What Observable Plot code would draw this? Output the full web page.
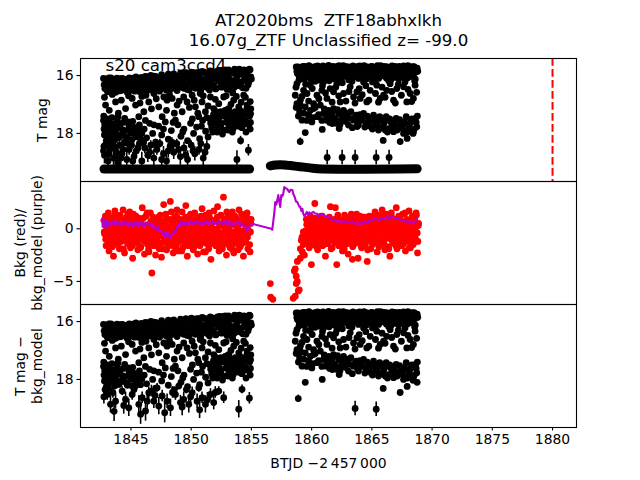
<!DOCTYPE html>
<html><head><meta charset="utf-8">
<script src="https://cdn.jsdelivr.net/npm/d3@7"></script>
<script src="https://cdn.jsdelivr.net/npm/@observablehq/plot@0.6"></script>
<style>
html,body{margin:0;padding:0;background:#fff;}
#fig{position:relative;width:640px;height:480px;overflow:hidden;}
</style></head><body>
<div id="fig"></div>
<script>
// ---------- texts & ticks ----------
const titleLines = ["AT2020bms \u00a0ZTF18abhxlkh\n16.07g_ZTF Unclassified z= -99.0"];
const sectorLabel = ["s20 cam3ccd4"];
const yLabelTop = ["T mag"];
const yLabelMid = ["Bkg (red)/\nbkg_model (purple)"];
const yLabelBot = ["T mag \u2212\nbkg_model"];
const xLabel = ["BTJD \u22122\u2009457\u2009000"];
const xTicks = [1845, 1850, 1855, 1860, 1865, 1870, 1875, 1880];
const magTicks = [16, 18];
const bkgTicks = [0, -5];
const alertTime = [1880];

// ---------- T mag: regularly sampled bright band (cadence start, step, values) ----------
const bandA1 = {t0: 1842.72, dt: 0.1122, mag: [
16.10,16.45,16.15,16.56,16.08,16.32,16.50,16.12,16.25,16.58,
16.09,16.38,16.18,16.52,16.10,16.30,16.46,16.13,16.57,16.08,
16.27,16.42,16.14,16.54,16.05,16.35,16.20,16.48,16.06,16.28,
16.56,16.03,16.38,16.14,16.45,15.99,16.30,16.20,16.52,16.04,
16.36,16.10,16.48,15.97,16.24,16.42,16.08,16.32,15.95,16.50,
16.16,16.38,15.94,16.27,16.46,16.06,16.22,15.92,16.40,16.12,
16.30,15.90,16.48,16.05,16.20,15.88,16.36,16.10,16.44,15.90,
16.26,16.00,16.52,15.86,16.15,16.34,15.92,16.42,16.05,15.84,
16.28,16.10,15.88,16.46,16.00,16.20,15.82,16.38,15.95,16.12,
15.80,16.30,16.04,15.86,16.48,15.92,16.18,15.78,16.36,16.00,
15.84,16.24,15.96,16.42,15.80,16.10,15.90,16.32,15.78,16.05]};
const bandB1 = {t0: 1842.77, dt: 0.1122, mag: [
16.32,16.12,16.50,16.20,16.40,16.08,16.55,16.28,16.16,16.44,
16.22,16.53,16.11,16.36,16.47,16.18,16.30,16.58,16.14,16.40,
16.50,16.09,16.33,16.21,16.46,16.12,16.55,16.26,16.38,16.15,
16.44,16.25,16.05,16.50,16.18,16.40,16.30,16.02,16.46,16.22,
16.12,16.54,16.28,16.06,16.40,16.16,16.50,16.00,16.34,16.20,
16.45,15.98,16.30,16.12,16.52,16.03,16.38,16.18,15.96,16.44,
16.08,16.32,15.94,16.50,16.15,16.26,15.92,16.40,16.02,16.22,
15.90,16.46,16.12,16.30,15.88,16.38,15.98,16.20,16.50,15.86,
16.10,16.34,15.94,16.44,15.84,16.18,16.02,16.40,15.82,16.26,
15.96,16.48,15.80,16.14,16.32,15.90,16.42,15.82,16.08,16.28,
15.78,16.36,15.92,16.18,15.82,16.44,15.98,16.22,15.80,16.12]};
const bandA2 = {t0: 1858.72, dt: 0.1014, mag: [
15.70,15.93,15.78,16.10,15.73,16.00,15.84,15.68,16.06,15.80,
15.96,15.72,16.13,15.86,15.76,16.03,15.69,15.90,15.82,16.16,
15.74,15.98,15.67,15.88,16.08,15.78,15.71,16.02,15.85,15.94,
15.68,16.12,15.80,15.75,15.97,15.66,15.91,16.07,15.73,15.83,
16.00,15.69,15.88,16.14,15.77,15.95,15.68,16.04,15.81,15.72,
15.92,16.10,15.67,15.86,15.99,15.74,15.79,16.08,15.70,15.94,
15.82,16.03,15.68,15.89,15.76,16.13,15.71,15.97,15.84,15.66,
16.01,15.78,15.92,15.69,16.09,15.74,15.87,15.98,15.70,15.81,
16.05,15.68,15.93,15.76,16.11,15.72,15.85,16.00,15.67,15.90,
15.78,16.08,15.71,15.95,15.83,15.69,16.03,15.77,15.88,15.74]};
const bandB2 = {t0: 1858.77, dt: 0.1014, mag: [
15.86,15.70,16.04,15.76,15.94,15.68,16.12,15.82,15.72,15.99,
15.66,15.90,15.78,16.08,15.70,15.96,15.84,15.67,16.02,15.75,
15.92,15.69,16.14,15.80,15.73,15.97,15.65,15.88,16.06,15.77,
15.71,16.00,15.83,15.68,15.95,16.10,15.74,15.87,15.66,16.03,
15.79,15.91,15.70,16.15,15.76,15.85,15.67,16.01,15.72,15.93,
15.68,16.07,15.81,15.74,15.98,15.66,15.89,16.12,15.71,15.84,
15.96,15.69,16.05,15.78,15.72,15.90,15.66,16.10,15.80,15.75,
15.94,15.68,16.02,15.83,15.70,15.97,15.74,16.14,15.67,15.88,
15.79,16.06,15.71,15.92,15.68,16.00,15.76,15.86,16.09,15.72,
15.95,15.66,16.04,15.81,15.73,15.91,15.69,16.12,15.78,15.85]};

// ---------- T mag: scattered points [t, mag] ----------
const mid1 = [[1842.89,17.02],[1843.72,16.91],[1844.55,17.14],[1845.10,16.79],[1845.38,17.02],[1846.07,17.25],[1846.48,16.91],[1846.90,16.62],[1847.31,17.08],[1847.73,16.74],[1848.00,16.85],[1848.42,16.79],[1848.83,17.02],[1849.25,17.25],[1849.38,16.74],[1849.66,16.91],[1850.08,16.68],[1850.35,17.08],[1850.90,16.91],[1851.18,17.25],[1851.60,16.74],[1851.87,17.14],[1852.29,16.97],[1852.70,16.74],[1853.12,17.14],[1853.53,16.85],[1853.95,17.08],[1854.36,16.68],[1854.64,17.02],[1854.77,17.25],[1845.65,17.42],[1847.59,17.42],[1848.69,17.54],[1850.63,17.42],[1851.73,17.48],
[1842.80,16.75],[1843.20,17.20],[1843.45,16.65],[1843.95,17.30],[1844.20,16.85],[1844.80,16.70],[1845.75,16.95],[1846.25,16.68],[1846.70,17.15],[1847.10,16.80],[1847.95,17.20],[1848.20,16.66],[1848.60,17.30],[1849.00,16.88],[1849.85,17.10],[1850.25,16.85],[1850.55,17.30],[1851.00,16.70],[1851.40,17.05],[1852.00,16.82],[1852.45,17.25],[1852.90,16.70],[1853.30,17.00],[1853.75,16.72],[1854.15,16.92],[1854.50,16.75],[1854.90,16.90],[1853.45,16.60],[1850.75,16.62],[1845.90,16.72]];
const low1 = [[1842.72,17.55],[1842.76,17.85],[1842.80,18.05],[1842.90,17.68],[1843.00,17.95],[1843.10,18.18],[1843.22,17.60],[1843.35,17.88],[1843.48,18.10],[1843.60,17.72],[1843.72,17.98],[1843.85,17.50],[1843.98,18.15],[1844.10,17.80],[1844.25,18.02],[1844.40,17.62],[1844.55,17.90],[1844.70,18.20],[1844.85,17.75],[1845.00,18.00],[1845.15,17.58],[1845.30,17.92],[1845.50,18.12],[1845.70,17.70],[1845.90,17.98],
[1846.10,17.85],[1846.30,18.15],[1846.55,17.65],[1846.80,18.00],[1847.05,18.30],[1847.30,17.75],[1847.55,18.05],[1847.85,17.60],[1848.10,18.20],[1848.35,17.90],[1848.60,18.35],[1848.90,17.70],[1849.15,18.10],[1849.40,17.85],[1849.70,18.25],[1849.95,17.65],[1850.20,18.00],[1850.45,17.78],[1850.70,18.18],[1850.95,17.55],[1851.20,17.92],[1851.40,18.12],
[1851.55,17.50],[1851.70,17.80],[1851.85,17.35],[1852.00,17.65],[1852.15,17.95],[1852.30,17.45],[1852.45,17.72],[1852.60,18.02],[1852.75,17.38],[1852.90,17.60],[1853.05,17.88],[1853.20,17.30],[1853.35,17.55],[1853.50,17.82],[1853.65,17.25],[1853.80,17.48],[1853.95,17.75],[1854.10,17.22],[1854.25,17.42],[1854.40,17.68],[1854.55,17.95],[1854.70,17.20],[1854.85,17.40],[1854.92,17.62],[1854.90,17.85],[1854.15,17.55],[1853.60,17.65],[1852.20,17.55],[1851.95,17.20],[1853.00,17.18],[1854.60,17.32],[1854.95,17.15],
[1842.74,17.40],[1842.82,17.70],[1842.86,17.95],[1842.95,18.25],[1843.05,17.50],[1843.15,17.78],[1843.28,18.00],[1843.42,17.45],[1843.55,17.68],[1843.66,18.22],[1843.78,17.85],[1843.92,17.42],[1844.05,17.65],[1844.18,18.08],[1844.32,17.88],[1844.48,17.48],[1844.62,18.12],[1844.78,17.60],[1844.92,17.85],[1845.08,18.22],[1845.22,17.78],[1845.40,18.05],[1845.60,17.88],[1845.80,18.18],
[1846.20,17.55],[1846.90,17.70],[1847.70,17.85],[1848.50,17.62],[1849.30,17.95],[1850.10,17.50],[1850.85,17.75],[1851.30,17.45],
[1851.62,17.65],[1851.78,17.95],[1851.90,17.55],[1852.08,17.28],[1852.25,17.80],[1852.38,17.62],[1852.52,17.40],[1852.68,17.88],[1852.82,17.20],[1852.98,17.50],[1853.12,17.72],[1853.28,17.42],[1853.42,17.95],[1853.58,17.35],[1853.72,17.60],[1853.88,17.30],[1854.02,17.50],[1854.20,17.80],[1854.32,17.28],[1854.48,17.55],[1854.62,17.15],[1854.78,17.70],[1854.93,17.32]];
const mid2 = [[1858.78,16.28],[1859.33,16.51],[1859.89,16.33],[1860.44,16.68],[1860.99,16.22],[1861.54,16.45],[1862.10,16.28],[1862.65,16.62],[1863.20,16.39],[1863.76,16.56],[1864.31,16.22],[1864.86,16.51],[1865.41,16.33],[1865.97,16.68],[1866.52,16.28],[1867.07,16.45],[1867.63,16.39],[1868.18,16.62],[1868.59,16.33],[1859.06,16.85],[1860.16,16.97],[1861.27,16.79],[1862.37,16.91],[1863.48,16.74],[1864.58,16.91],[1865.69,16.79],[1866.80,16.85],[1867.90,16.91],[1859.61,16.62],[1861.82,16.56],[1864.03,16.79],[1866.24,16.51],[1868.45,16.79],[1858.64,16.68],[1860.85,16.51],
[1858.70,16.40],[1858.95,16.15],[1859.20,16.72],[1859.50,16.30],[1859.75,16.88],[1860.05,16.45],[1860.30,16.20],[1860.60,16.80],[1860.90,16.35],[1861.15,16.60],[1861.45,16.18],[1861.70,16.92],[1862.00,16.40],[1862.25,16.70],[1862.55,16.25],[1862.85,16.88],[1863.10,16.55],[1863.35,16.20],[1863.60,16.95],[1863.95,16.45],[1864.20,16.66],[1864.50,16.35],[1864.75,16.85],[1865.05,16.22],[1865.30,16.62],[1865.55,16.92],[1865.85,16.40],[1866.10,16.75],[1866.40,16.18],[1866.65,16.55],[1866.95,16.95],[1867.20,16.30],[1867.45,16.68],[1867.75,16.22],[1868.00,16.48],[1868.30,16.90],[1868.55,16.18],[1868.72,16.58]];
const low2 = [[1858.78,16.97],[1859.00,17.25],[1859.20,17.54],[1859.47,17.08],[1859.75,17.37],[1860.02,17.60],[1860.16,17.14],[1860.44,17.42],[1860.72,17.02],[1860.99,17.31],[1861.21,17.54],[1861.41,17.20],[1861.60,17.42],[1861.82,17.14],[1862.04,17.65],[1862.24,17.31],[1862.43,17.54],[1862.65,17.20],[1862.87,17.42],[1863.06,17.71],[1863.26,17.25],[1863.48,17.54],[1863.70,17.37],[1863.89,17.71],[1864.09,17.48],[1864.31,17.31],[1864.53,17.65],[1864.72,17.48],[1864.92,17.77],[1865.14,17.37],[1865.36,17.65],[1865.55,17.88],[1865.75,17.54],[1865.97,17.71],[1866.19,17.42],[1866.38,17.83],[1866.57,17.60],[1866.80,17.94],[1867.02,17.48],[1867.21,17.77],[1867.40,17.65],[1867.63,18.00],[1867.85,17.42],[1868.04,17.83],[1868.23,17.60],[1868.45,17.94],[1868.62,17.48],[1868.73,17.77],[1867.57,17.71],[1866.91,17.71],[1866.11,17.88],
[1858.72,17.10],[1858.90,17.40],[1859.10,17.05],[1859.35,17.30],[1859.60,17.55],[1859.90,17.20],[1860.10,17.45],[1860.30,17.10],[1860.58,17.35],[1860.85,17.55],[1861.05,17.15],[1861.30,17.40],[1861.50,17.62],[1861.72,17.28],[1861.95,17.48],[1862.15,17.18],[1862.35,17.70],[1862.55,17.38],[1862.78,17.58],[1862.98,17.30],[1863.18,17.48],[1863.38,17.80],[1863.60,17.45],[1863.80,17.62],[1864.00,17.35],[1864.20,17.55],[1864.42,17.78],[1864.62,17.40],[1864.82,17.60],[1865.05,17.85],[1865.25,17.50],[1865.45,17.72],[1865.65,17.42],[1865.88,17.80],[1866.05,17.60],[1866.30,17.95],[1866.48,17.50],[1866.70,17.75],[1866.88,17.55],[1867.10,17.88],[1867.30,17.52],[1867.50,17.82],[1867.72,17.60],[1867.95,17.95],[1868.12,17.70],[1868.32,17.50],[1868.52,17.85],[1868.68,17.62],[1868.78,17.40]];

// faint points with errors [t, mag, err]
const tailTop1 = [[1842.75,18.45,0.2],[1842.80,18.75,0.3],[1842.95,18.30,0.15],[1843.10,18.95,0.3],[1843.25,18.55,0.2],[1843.40,18.35,0.15],[1843.55,18.85,0.3],[1843.70,18.50,0.2],[1843.90,19.00,0.3],[1844.05,18.40,0.15],[1844.25,18.70,0.25],[1844.45,18.30,0.15],[1844.65,18.90,0.3],[1844.85,18.55,0.2],[1845.05,18.40,0.15],[1845.25,18.80,0.25],[1845.45,18.60,0.2],[1845.70,18.35,0.15],[1845.90,18.95,0.3],[1846.15,18.50,0.2],[1846.40,18.75,0.25],[1846.65,18.40,0.15],[1846.90,18.85,0.3],[1847.15,18.55,0.2],[1847.40,18.35,0.15],[1847.70,18.70,0.25],[1847.95,18.95,0.3],[1848.25,18.45,0.2],[1848.55,18.65,0.25],[1848.80,18.35,0.15],[1849.10,18.80,0.3],[1849.40,18.50,0.2],[1849.70,18.90,0.3],[1850.00,18.40,0.15],[1850.30,18.70,0.25],[1850.65,18.55,0.2],[1851.00,18.85,0.3],[1851.30,18.45,0.2],[1853.80,18.90,0.3],[1854.10,18.25,0.15],[1854.75,18.58,0.2],
[1842.72,18.60,0.25],[1842.88,18.40,0.2],[1843.18,18.70,0.3],[1843.48,18.25,0.15],[1843.80,18.65,0.25],[1844.15,18.85,0.3],[1844.35,18.55,0.2],[1844.75,18.35,0.2],[1845.15,18.95,0.3],[1845.58,18.50,0.2],[1846.05,18.30,0.15],[1846.55,18.65,0.25],[1847.05,18.40,0.2],[1847.55,18.90,0.3],[1848.10,18.60,0.25],[1848.40,18.30,0.15],[1848.95,18.55,0.2],[1849.55,18.75,0.25],[1850.15,18.60,0.2],[1850.80,18.35,0.15],[1851.15,18.65,0.25]];
const lowTop2 = [[1859.05,18.28,0.12],[1859.47,17.97,0.06],[1860.88,17.86,0.06],[1861.71,17.66,0.05],[1862.29,17.83,0.05],[1863.78,17.76,0.05],[1865.94,18.24,0.1],[1867.35,18.28,0.1],[1867.93,18.17,0.08],[1868.42,18.00,0.08],[1861.29,18.83,0.25],[1862.53,18.83,0.25],[1863.61,18.83,0.25],[1865.36,18.83,0.25],[1866.43,18.83,0.25]];
const tailBot1 = [[1843.03,18.52,0.2],[1843.30,18.86,0.3],[1843.72,18.75,0.25],[1844.27,18.40,0.15],[1844.55,18.69,0.25],[1844.82,18.98,0.3],[1845.10,18.52,0.2],[1845.65,18.86,0.3],[1845.93,18.63,0.2],[1846.21,19.09,0.35],[1846.48,18.46,0.2],[1846.90,18.75,0.25],[1847.31,18.92,0.3],[1847.59,18.57,0.2],[1848.00,18.75,0.25],[1848.28,18.98,0.3],[1848.69,18.52,0.2],[1849.11,18.80,0.25],[1849.38,18.69,0.25],[1849.80,18.86,0.3],[1850.08,18.46,0.2],[1850.49,18.75,0.25],[1850.90,18.63,0.2],[1851.18,18.86,0.3],[1851.60,18.52,0.2],[1851.87,18.80,0.25],[1852.29,18.40,0.15],[1852.70,18.63,0.2],[1853.95,19.03,0.3],[1854.22,18.34,0.15],[1854.83,18.65,0.2],[1844.00,18.17,0.12],[1845.38,18.23,0.12],[1847.17,18.29,0.15],[1848.97,18.23,0.12],[1850.63,18.29,0.15],[1842.85,18.35,0.15],[1843.50,18.45,0.2],[1846.70,18.40,0.2],[1849.60,18.35,0.15],
[1842.75,18.60,0.25],[1843.15,18.30,0.15],[1843.60,19.10,0.35],[1844.40,18.90,0.3],[1845.25,18.35,0.15],[1845.80,19.20,0.35],[1846.35,18.75,0.25],[1847.00,18.55,0.2],[1847.80,19.15,0.35],[1848.45,18.45,0.2],[1849.25,18.95,0.3],[1849.95,18.60,0.2],[1850.70,19.05,0.3],[1851.35,18.70,0.25],[1852.00,18.45,0.2]];
const lowBot2 = [[1858.89,18.66,0.12],[1859.47,18.10,0.08],[1860.88,18.00,0.08],[1861.71,17.66,0.06],[1862.29,17.83,0.06],[1863.61,19.00,0.25],[1865.36,19.03,0.25],[1865.94,18.31,0.1],[1867.35,18.45,0.1],[1867.93,18.24,0.1],[1868.42,18.03,0.08],[1868.76,18.10,0.08]];

// clipped faint-limit row [t, mag]
const rowClip1 = [[1842.76,19.23],[1854.85,19.23]];
const rowClip2 = [[1856.57,19.12],[1857.00,19.09],[1857.40,19.08],[1857.80,19.09],[1858.23,19.11],[1859.05,19.15],[1859.88,19.19],[1860.50,19.22],[1868.76,19.22]];

// ---------- background (cadence start, step, values) ----------
const bkg1 = {t0: 1842.75, dt: 0.0613, v: [
0.8,-0.5,1.2,-1.6,0.3,-0.9,1.5,-2.1,0.1,-0.4,
1.0,-1.2,0.6,-2.6,-0.2,1.7,-0.8,0.4,-1.5,0.9,
-0.1,-1.9,1.3,-0.6,0.2,-1.1,1.8,-0.3,-2.3,0.7,
-0.7,1.1,-1.4,0.0,-0.5,1.6,-1.8,0.5,-1.0,-2.8,
1.4,-0.2,0.8,-1.3,-0.6,0.3,-2.0,1.0,-0.9,0.6,
-1.7,-0.4,2.0,-1.1,0.2,-2.4,-0.3,1.2,-0.8,-1.5,
0.4,-2.2,-0.7,1.5,-1.0,-4.2,0.1,-1.6,0.9,-0.5,
-2.5,0.6,-1.2,-0.1,1.1,-1.9,-0.6,0.3,-2.7,0.7,
-1.3,2.3,-0.4,-1.0,1.4,-2.0,0.2,-0.8,-1.6,0.9,
2.6,-0.3,-1.4,0.5,-2.3,1.0,-0.9,0.0,-1.7,1.8,
-0.5,-2.1,0.8,-1.1,0.3,-0.6,1.6,-1.8,-0.2,0.6,
-1.3,2.2,-0.7,-2.6,0.4,-0.4,1.2,-1.5,0.1,-1.0,
0.9,-2.0,-0.3,1.5,-1.2,0.5,-0.8,-2.4,1.0,-0.1,
-1.6,0.7,-0.5,1.9,-1.1,-2.2,0.2,-0.7,1.3,-1.4,
0.4,-0.9,-1.9,1.1,-0.2,-2.9,0.6,-1.2,0.0,1.7,
-0.6,-1.5,0.8,-1.0,2.1,-0.4,-2.1,0.3,-0.8,1.2,
-1.7,0.5,3.0,-1.3,-0.1,0.9,-2.5,-0.5,1.4,-1.0,
0.2,-1.8,0.7,-0.3,1.6,-1.4,-2.3,0.4,-0.7,1.0,
-1.1,0.1,-2.0,1.8,-0.6,0.6,-1.5,-0.2,1.3,-2.6,
0.8,-0.9,-1.2,0.3,1.5,-1.9,-0.4,0.9,-2.2,0.5]};
const bkg1b = {t0: 1842.78, dt: 0.0613, v: [
-0.3,0.5,-1.0,0.2,-0.6,1.0,-1.4,-0.1,0.7,-0.8,
0.3,-1.7,0.0,-0.5,1.3,-1.1,-0.2,0.6,-0.9,-1.5,
0.4,-0.4,1.1,-1.2,-0.7,0.1,-1.9,0.8,-0.3,-1.0,
0.5,-0.6,1.4,-1.3,0.2,-0.8,-0.1,0.9,-1.6,-0.4,
0.6,-1.1,0.0,1.2,-0.7,-1.4,0.3,-0.2,0.8,-1.8,
-0.5,0.4,-1.0,1.0,-0.3,-1.2,0.1,-0.6,1.5,-0.9,
-2.0,0.2,-0.4,0.7,-1.3,-0.1,1.1,-0.8,-1.6,0.5,
-0.2,-1.0,0.9,-0.5,0.3,-1.4,1.3,-0.7,-0.1,-1.9,
0.6,-0.3,-1.1,0.4,1.0,-0.6,-1.5,0.1,-0.9,0.8,
-0.4,1.6,-1.2,-0.2,0.5,-1.7,0.0,-0.8,1.2,-0.5,
-1.3,0.3,-0.1,0.9,-1.0,-2.1,0.7,-0.6,0.2,-1.4,
1.1,-0.3,-0.9,0.4,-1.6,0.6,-0.2,1.4,-1.1,-0.7,
0.0,-1.8,0.8,-0.4,0.3,-1.2,1.0,-0.5,-1.5,0.5,
-0.1,1.2,-0.8,-1.3,0.2,-0.6,0.9,-2.2,-0.3,0.6,
-1.0,0.1,1.5,-0.7,-1.4,0.4,-0.2,0.8,-1.1,-0.5,
0.7,-1.6,0.0,1.1,-0.9,-0.3,0.5,-1.3,1.3,-0.6,
-1.9,0.3,-0.4,0.9,-1.2,-0.1,1.6,-0.8,-1.5,0.2,
-0.5,1.0,-1.0,0.4,-2.0,0.6,-0.3,1.2,-0.7,-1.4,
0.1,-0.9,0.8,-0.2,-1.7,0.5,1.4,-1.1,-0.4,0.7,
-0.6,-1.3,0.2,1.1,-0.8,-0.1,0.6,-1.5,-0.3,0.9]};
const bkg2 = {t0: 1859.50, dt: 0.0588, v: [
-0.2,0.9,-1.3,-0.5,0.4,-1.8,0.1,-0.9,1.1,-0.3,
-1.5,0.6,-0.7,2.4,-1.1,0.2,-0.4,-2.0,0.8,-0.6,
-1.2,0.3,1.2,-0.8,-1.6,0.0,-0.3,0.7,-2.6,-0.9,
0.5,-1.4,-0.1,1.0,-0.7,2.1,-1.9,0.2,-0.5,-1.0,
0.6,-1.3,2.0,-0.2,-3.4,0.4,-0.8,-1.6,0.9,-0.4,
-1.1,0.1,-2.1,0.7,-0.6,1.3,-1.4,-0.3,0.3,-0.9,
-2.4,0.5,-0.1,-1.2,1.0,-0.7,-2.9,0.2,-1.5,0.8,
-0.5,-1.0,1.4,-0.2,-2.8,0.4,-1.3,-0.6,0.6,-1.8,
0.0,1.1,-0.9,-0.3,-1.6,0.7,-0.4,-3.1,0.3,-1.1,
1.2,-0.7,-1.9,0.5,-0.1,-1.4,0.9,-0.6,1.6,-1.0,
-0.2,-2.2,0.6,-0.8,0.1,1.3,-1.5,-0.4,1.8,-1.2,
0.4,-0.5,-2.0,0.8,-0.9,-0.1,1.0,-1.7,0.2,-2.6,
-0.6,1.5,-1.1,0.3,-0.3,-1.4,0.7,-0.8,2.0,-1.9,
0.5,-0.2,-1.0,1.1,-0.7,-1.6,0.0,1.4,-1.3,-0.4,
0.6,-2.1,-0.5,0.9,-1.2,0.2,1.7,-0.9,-1.8,0.4,
-0.3,1.2,-1.5,-0.6,0.8,-1.1,1.5,-0.4,-2.3,0.3]};
const bkg2b = {t0: 1859.53, dt: 0.0588, v: [
-0.6,0.4,-1.1,0.1,-0.3,0.9,-1.5,-0.2,0.6,-0.9,
0.2,-1.3,-0.4,1.0,-0.7,-1.7,0.3,-0.1,0.8,-1.2,
-0.5,0.5,-1.0,1.2,-0.3,-1.5,0.0,0.7,-0.8,-0.2,
-1.4,0.4,-0.6,1.1,-1.1,-0.1,0.6,-1.8,0.2,-0.7,
0.9,-0.4,-1.3,0.3,-0.2,1.3,-0.9,-1.6,0.5,-0.5,
0.0,-1.2,0.8,-0.3,-1.9,0.4,-0.8,1.0,-0.1,-1.4,
0.6,-0.6,-1.0,0.2,1.4,-0.4,-1.7,0.5,-0.9,0.1,
-0.2,-1.3,0.9,-0.7,0.3,-1.1,1.2,-0.5,-1.6,0.0,
0.7,-0.8,-0.3,1.1,-1.4,0.2,-0.6,-2.0,0.4,-0.1,
1.0,-1.0,-0.4,0.6,-1.5,0.1,-0.7,1.3,-0.2,-1.2,
0.5,-0.9,0.0,-1.7,0.8,-0.4,1.1,-1.1,-0.3,0.3,
-1.4,0.6,-0.6,1.4,-0.8,-0.1,0.2,-1.9,0.7,-0.5,
-1.0,0.4,1.0,-1.3,-0.2,0.5,-0.7,-1.6,0.9,0.0,
-0.4,1.2,-1.2,0.3,-0.8,-0.1,0.7,-1.5,0.1,-0.6,
1.5,-0.3,-1.1,0.6,-0.9,0.2,-1.8,0.8,-0.5,-0.2,
1.1,-1.4,0.4,-0.7,0.0,-1.0,1.3,-0.4,-1.2,0.5]};
const bkgRecovery = [[1856.57,-5.2],[1856.60,-6.5],[1856.78,-6.7],[1858.47,-6.6],[1858.64,-6.4],[1858.72,-5.2],[1858.81,-5.0],[1858.89,-5.9],[1858.56,-4.0],[1858.64,-3.8],[1858.81,-3.1],[1859.06,-2.8],[1859.23,-2.2],[1859.31,-1.5],[1859.48,-0.9],[1859.31,-0.3],[1859.81,0.4],[1859.89,0.7],[1859.98,-3.4],[1858.97,-5.8],[1858.72,-4.5],[1859.06,-1.9],[1859.14,-1.1],[1859.40,-2.5],[1859.20,-0.8]];
const bkgModel = [[1842.64,0.19],[1842.70,0.95],[1842.78,0.2],[1842.86,0.8],[1842.94,0.1],[1843.02,0.75],[1843.12,0.3],[1843.22,0.6],[1843.32,0.35],[1843.45,0.7],[1843.58,0.4],[1843.70,0.75],[1843.82,0.45],[1843.96,0.66],[1844.08,0.3],[1844.20,0.6],[1844.32,0.35],[1844.45,0.7],[1844.58,0.4],[1844.70,0.62],[1844.85,0.25],[1844.96,0.55],[1845.10,0.2],[1845.22,0.6],[1845.35,0.3],[1845.48,0.7],[1845.60,0.15],[1845.72,0.65],[1845.85,0.3],[1845.98,0.58],[1846.10,0.2],[1846.22,0.6],[1846.35,0.45],[1846.50,0.55],[1846.62,0.3],[1846.75,0.5],[1846.87,0.09],[1847.00,0.2],[1847.11,-0.09],[1847.25,0.25],[1847.36,-0.2],[1847.50,-0.1],[1847.61,-0.55],[1847.72,-0.3],[1847.86,-0.85],[1847.95,-0.5],[1848.03,-0.3],[1848.15,-0.7],[1848.28,-0.9],[1848.38,-0.45],[1848.50,-0.6],[1848.62,-0.15],[1848.72,-0.3],[1848.85,0.2],[1848.94,0.45],[1849.05,0.2],[1849.15,0.7],[1849.28,0.4],[1849.40,0.6],[1849.52,0.35],[1849.65,0.62],[1849.78,0.45],[1849.93,0.7],[1850.05,0.4],[1850.18,0.65],[1850.30,0.5],[1850.45,0.75],[1850.58,0.45],[1850.70,0.6],[1850.85,0.38],[1850.98,0.65],[1851.10,0.5],[1851.25,0.7],[1851.38,0.42],[1851.50,0.62],[1851.62,0.5],[1851.75,0.72],[1851.88,0.4],[1852.00,0.58],[1852.12,0.45],[1852.25,0.7],[1852.38,0.5],[1852.50,0.62],[1852.62,0.38],[1852.75,0.7],[1852.88,0.45],[1853.00,0.85],[1853.12,0.4],[1853.25,0.6],[1853.38,0.3],[1853.50,0.55],[1853.62,0.35],[1853.75,0.7],[1853.88,0.48],[1854.00,0.6],[1854.12,0.3],[1854.25,0.5],[1854.38,0.2],[1854.49,0.3],[1854.58,-0.1],[1854.66,-0.25],[1854.75,0.1],[1854.83,0.3],[1854.95,0.5],[1855.07,0.47],[1855.16,0.45],
[1856.65,0.0],[1856.73,-0.1],[1856.90,1.5],[1856.98,2.55],[1857.07,2.3],[1857.15,2.74],[1857.23,3.2],[1857.31,2.6],[1857.39,2.08],[1857.48,3.2],[1857.56,3.1],[1857.64,3.3],[1857.73,3.96],[1857.85,3.85],[1857.98,3.77],[1858.07,3.6],[1858.15,3.49],[1858.25,3.7],[1858.40,3.68],[1858.48,3.3],[1858.60,3.0],[1858.70,2.6],[1858.81,2.55],[1858.90,2.3],[1858.98,2.1],[1859.06,2.08],[1859.15,1.7],[1859.23,1.9],[1859.31,1.42],[1859.40,1.2],[1859.48,1.32],[1859.60,1.6],[1859.70,1.3],[1859.80,1.55],[1859.90,1.42],[1860.00,1.5],[1860.15,1.6],[1860.30,1.45],[1860.48,1.42],[1860.60,1.2],[1860.75,1.35],[1860.98,1.32],[1861.20,1.1],[1861.35,1.2],[1861.54,0.94],[1861.70,0.8],[1861.90,0.9],[1862.12,0.66],[1862.30,0.75],[1862.50,0.55],[1862.70,0.7],[1862.95,0.66],[1863.15,0.55],[1863.35,0.72],[1863.55,0.5],[1863.78,0.47],[1863.95,0.6],[1864.10,0.4],[1864.27,0.66],[1864.45,0.75],[1864.60,0.55],[1864.85,0.85],[1865.00,0.7],[1865.20,1.0],[1865.44,0.94],[1865.60,0.75],[1865.80,1.05],[1866.00,0.9],[1866.27,1.13],[1866.45,0.95],[1866.60,1.2],[1866.76,1.13],[1866.95,0.9],[1867.15,1.05],[1867.35,0.85],[1867.50,0.7],[1867.70,0.8],[1867.93,0.66],[1868.10,0.55],[1868.25,0.7],[1868.43,0.47],[1868.60,0.65],[1868.76,0.94]];

// ---------- helpers ----------
const cadMag = o => o.mag.map((m, i) => [o.t0 + i * o.dt, m]);
const cadBkg = o => o.v.map((m, i) => [o.t0 + i * o.dt, m]);
const cloud = [...cadMag(bandA1), ...cadMag(bandB1), ...mid1, ...low1, ...cadMag(bandA2), ...cadMag(bandB2), ...mid2, ...low2];
const bkgAll = [...cadBkg(bkg1), ...cadBkg(bkg1b), ...cadBkg(bkg2), ...cadBkg(bkg2b), ...bkgRecovery];

const FONT = "DejaVu Sans, sans-serif";
const X = {domain: [1840.81, 1881.99], axis: null};
const MAG_Y = {domain: [15.41, 19.66], reverse: true, axis: null};
const BKG_Y = {domain: [-7.19, 4.49], axis: null};
const minusFmt = d => d < 0 ? "\u2212" + Math.abs(d) : String(d);
const fx = d => d[0], fy = d => d[1];

function place(svg, top) {
  svg.style.position = "absolute";
  svg.style.left = "0px";
  svg.style.top = top + "px";
  document.getElementById("fig").appendChild(svg);
}
const common = {
  width: 640, marginLeft: 80, marginRight: 64,
  style: {background: "none", overflow: "visible", fontFamily: FONT, fontSize: "13.9px", color: "black"},
  x: X
};
const yAxis = ticks => Plot.axisY({ticks, tickSize: 3.5, tickPadding: 3.5, tickFormat: minusFmt, label: null, fontSize: 13.9, strokeWidth: 1.1});
const errBars = data => Plot.ruleX(data, {x: fx, y1: d => d[1] - d[2], y2: d => d[1] + d[2], stroke: "black", strokeWidth: 1.6});
const dots = (data, fill) => Plot.dot(data, {x: fx, y: fy, r: 3.4, fill});

// ---------- panel 1 : T mag ----------
place(Plot.plot({
  ...common, height: 183, marginTop: 58, marginBottom: 2, y: MAG_Y,
  marks: [
    Plot.line(rowClip1, {x: fx, y: fy, stroke: "black", strokeWidth: 9, strokeLinecap: "round"}),
    Plot.line(rowClip2, {x: fx, y: fy, stroke: "black", strokeWidth: 9, strokeLinecap: "round", curve: "catmull-rom"}),
    errBars(tailTop1), errBars(lowTop2),
    dots(cloud, "black"), dots(tailTop1, "black"), dots(lowTop2, "black"),
    Plot.ruleX(alertTime, {stroke: "red", strokeWidth: 2, strokeDasharray: "7.7,3.3"}),
    Plot.frame({stroke: "black", strokeWidth: 1.1}),
    yAxis(magTicks),
    Plot.text(yLabelTop, {text: d => d, frameAnchor: "left", dx: -38, rotate: -90, textAnchor: "middle", lineAnchor: "middle", fontSize: 13.9}),
    Plot.text(sectorLabel, {text: d => d, frameAnchor: "top-left", dx: 25, dy: 12.7, textAnchor: "start", lineAnchor: "bottom", fontSize: 16.67}),
    Plot.text(titleLines, {text: d => d, frameAnchor: "top", dy: -12.2, textAnchor: "middle", lineAnchor: "bottom", lineHeight: 1.2, fontSize: 16.67})
  ]
}), 0);

// ---------- panel 2 : background ----------
place(Plot.plot({
  ...common, height: 127, marginTop: 2, marginBottom: 2, y: BKG_Y,
  marks: [
    dots(bkgAll, "#ff0000"),
    Plot.line(bkgModel, {x: fx, y: fy, stroke: "#b400cc", strokeWidth: 2.1}),
    Plot.frame({stroke: "black", strokeWidth: 1.1}),
    yAxis(bkgTicks),
    Plot.text(yLabelMid, {text: d => d, frameAnchor: "left", dx: -52, rotate: -90, textAnchor: "middle", lineAnchor: "middle", lineHeight: 1.22, fontSize: 13.9})
  ]
}), 179);

// ---------- panel 3 : T mag - bkg_model ----------
place(Plot.plot({
  ...common, height: 178, marginTop: 2, marginBottom: 53, y: MAG_Y,
  marks: [
    errBars(tailBot1), errBars(lowBot2),
    dots(cloud, "black"), dots(tailBot1, "black"), dots(lowBot2, "black"),
    Plot.frame({stroke: "black", strokeWidth: 1.1}),
    yAxis(magTicks),
    Plot.axisX({ticks: xTicks, tickSize: 3.5, tickPadding: 3.5, tickFormat: d => String(d), label: null, fontSize: 13.9, strokeWidth: 1.1}),
    Plot.text(yLabelBot, {text: d => d, frameAnchor: "left", dx: -52, rotate: -90, textAnchor: "middle", lineAnchor: "middle", lineHeight: 1.22, fontSize: 13.9}),
    Plot.text(xLabel, {text: d => d, frameAnchor: "bottom", dy: 36, textAnchor: "middle", lineAnchor: "middle", fontSize: 13.9})
  ]
}), 302);
</script></body></html>
